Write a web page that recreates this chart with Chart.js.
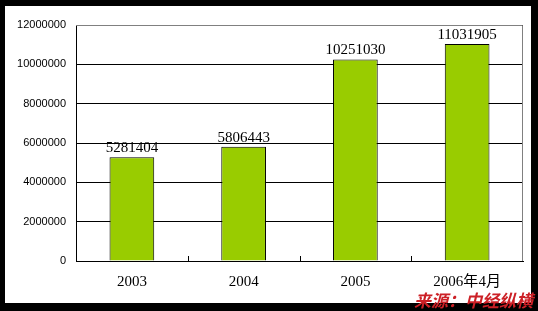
<!DOCTYPE html>
<html>
<head>
<meta charset="utf-8">
<script src="https://cdn.jsdelivr.net/npm/chart.js@4"></script>
<style>
html, body { margin: 0; padding: 0; background: #000; }
#wrap { width: 538px; height: 311px; }
</style>
</head>
<body>
<div id="wrap"><canvas id="c" width="538" height="311"></canvas></div>
<script>
// categories and values
const years = ['2003', '2004', '2005', '2006年4月'];
const values = [5281404, 5806443, 10251030, 11031905];
const yTicks = [0, 2000000, 4000000, 6000000, 8000000, 10000000, 12000000];
const sourceText = '来源：中经纵横';

const serif = '"Liberation Serif", "DejaVu Serif", "Noto Sans CJK SC", serif';

// frame, value labels, inward tick marks, source note
const decor = {
    id: 'decor',
    beforeDraw(chart) {
        const c = chart.ctx;
        c.save();
        c.fillStyle = '#000';
        c.fillRect(0, 0, chart.width, chart.height);
        c.fillStyle = '#fff';
        c.fillRect(5, 6, 526, 297);
        c.restore();
    },
    afterDraw(chart) {
        const c = chart.ctx;
        const a = chart.chartArea;
        c.save();
        // plot border top & right (gray)
        c.strokeStyle = '#808080';
        c.lineWidth = 1;
        c.beginPath();
        c.moveTo(a.left, a.top + 0.5);
        c.lineTo(a.right - 0.5, a.top + 0.5);
        c.lineTo(a.right - 0.5, a.bottom);
        c.stroke();
        // small ticks between categories, pointing up
        c.strokeStyle = '#000';
        const step = (a.right - a.left) / years.length;
        c.beginPath();
        for (let i = 1; i < years.length; i++) {
            const px = Math.round(a.left + step * i) + 0.5;
            c.moveTo(px, a.bottom);
            c.lineTo(px, a.bottom - 5);
        }
        c.stroke();
        // value labels
        c.fillStyle = '#000';
        c.font = '15px ' + serif;
        c.textAlign = 'center';
        c.textBaseline = 'alphabetic';
        chart.getDatasetMeta(0).data.forEach((bar, i) => {
            c.fillText(String(values[i]), bar.x, bar.y - 5);
        });
        // source
        c.fillStyle = '#cc2026';
        c.font = 'italic bold 17px "Noto Sans CJK SC", sans-serif';
        c.textAlign = 'right';
        c.fillText(sourceText, 533, 307);
        c.restore();
    }
};

const ctx = document.getElementById('c').getContext('2d');
new Chart(ctx, {
    type: 'bar',
    data: {
        labels: years,
        datasets: [{
            data: values,
            backgroundColor: '#99cc00',
            borderColor: '#000',
            borderWidth: 1,
            categoryPercentage: 1,
            barPercentage: 0.4,
        }],
    },
    options: {
        responsive: false,
        animation: false,
        layout: { padding: { left: 0, top: 25, right: 15, bottom: 0 } },
        plugins: { legend: { display: false }, tooltip: { enabled: false } },
        scales: {
            x: {
                grid: { display: false, drawTicks: false },
                border: { color: '#000' },
                ticks: { color: '#000', font: { family: serif, size: 15 }, padding: 12 },
                afterFit(s) { s.height = 50; },
            },
            y: {
                min: 0,
                max: 12000000,
                afterBuildTicks(s) { s.ticks = yTicks.map(v => ({ value: v })); },
                grid: { color: '#000', drawTicks: false },
                border: { color: '#000' },
                ticks: {
                    color: '#000',
                    padding: 10,
                    font: { family: 'Arial, "Liberation Sans", sans-serif', size: 11 },
                    callback: v => String(v),
                },
                afterFit(s) { s.width = 76; },
            },
        },
    },
    plugins: [decor],
});
</script>
</body>
</html>
